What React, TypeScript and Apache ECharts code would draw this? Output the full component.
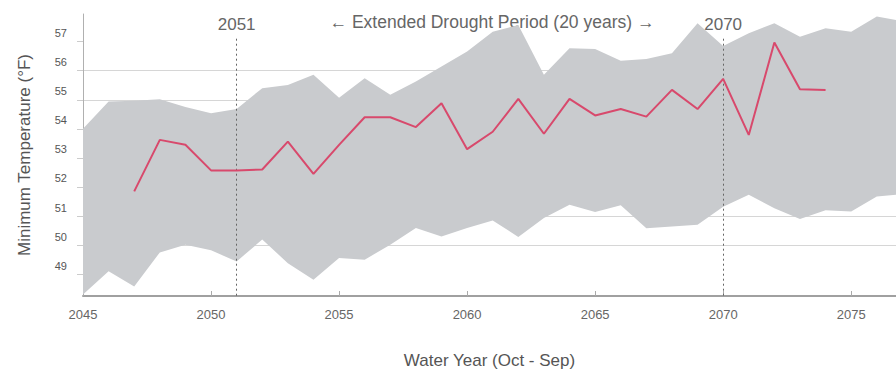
import React, { useEffect, useRef } from "react";
import * as echarts from "echarts";

const years = [
  2045, 2046, 2047, 2048, 2049, 2050, 2051, 2052, 2053, 2054, 2055, 2056, 2057,
  2058, 2059, 2060, 2061, 2062, 2063, 2064, 2065, 2066, 2067, 2068, 2069, 2070,
  2071, 2072, 2073, 2074, 2075, 2076, 2077,
];

const bandUpper = [
  54.0, 54.94, 54.97, 55.02, 54.75, 54.54, 54.68, 55.4, 55.51, 55.86, 55.07, 55.74, 55.17,
  55.63, 56.14, 56.66, 57.34, 57.57, 55.86, 56.77, 56.75, 56.34, 56.4, 56.6, 57.63, 56.85,
  57.29, 57.63, 57.17, 57.46, 57.34, 57.86, 57.7,
];

const bandLower = [
  48.3, 49.1, 48.58, 49.75, 50.01, 49.82, 49.44, 50.19, 49.38, 48.81, 49.56, 49.5, 50.01,
  50.59, 50.3, 50.59, 50.85, 50.28, 50.93, 51.39, 51.14, 51.37, 50.58, 50.64, 50.7, 51.32,
  51.73, 51.27, 50.9, 51.2, 51.16, 51.67, 51.75,
];

const medianYears = [
  2047, 2048, 2049, 2050, 2051, 2052, 2053, 2054, 2055, 2056, 2057, 2058, 2059, 2060,
  2061, 2062, 2063, 2064, 2065, 2066, 2067, 2068, 2069, 2070, 2071, 2072, 2073, 2074,
];

const medianValues = [
  51.85, 53.62, 53.45, 52.57, 52.57, 52.6, 53.56, 52.45, 53.45, 54.4, 54.4, 54.06, 54.88, 53.3,
  53.9, 55.03, 53.83, 55.03, 54.46, 54.68, 54.42, 55.34, 54.68, 55.72, 53.79, 56.97, 55.36, 55.34,
];

const yTicks = [49, 50, 51, 52, 53, 54, 55, 56, 57];

const droughtStart = 2051;
const droughtEnd = 2070;
const droughtLabel = "\u2190 Extended Drought Period (20 years) \u2192";

export default function App() {
  const ref = useRef<HTMLDivElement>(null);

  useEffect(() => {
    if (!ref.current) return;
    const chart = echarts.init(ref.current, null, { renderer: "svg" });
    const bandData = years.map((y, i) => [y, bandLower[i], bandUpper[i]]);
    const lineData = medianYears.map((y, i) => [y, medianValues[i]]);
    const font = "Arial, 'Liberation Sans', sans-serif";

    const vLine = (yr: number) => [
      {
        coord: [yr, 57.1],
        label: {
          show: true,
          position: "start",
          formatter: String(yr),
          color: "#666",
          fontSize: 17,
          fontFamily: font,
          distance: 6,
        },
      },
      { coord: [yr, 48.25] },
    ];

    chart.setOption({
      animation: false,
      backgroundColor: "#fff",
      grid: { left: 83, right: 0, top: 14, bottom: 79 },
      xAxis: {
        type: "value",
        min: 2045,
        max: 2076.75,
        interval: 5,
        name: "Water Year (Oct - Sep)",
        nameLocation: "middle",
        nameGap: 56,
        nameTextStyle: { color: "#555", fontSize: 17, fontFamily: font },
        axisLine: { show: true, lineStyle: { color: "#a0a0a0", width: 2 } },
        axisTick: { show: true, inside: true, length: 5, lineStyle: { color: "#aaa" } },
        axisLabel: {
          formatter: (v: number) => String(v),
          showMaxLabel: false,
          color: "#666",
          fontSize: 13,
          fontFamily: font,
          margin: 12,
        },
        splitLine: { show: false },
      },
      yAxis: {
        type: "value",
        min: 48.25,
        max: 57.95,
        splitNumber: 10,
        minInterval: 1,
        maxInterval: 1,
        name: "Minimum Temperature (\u00b0F)",
        nameLocation: "middle",
        nameGap: 50,
        nameTextStyle: { color: "#555", fontSize: 17, fontFamily: font },
        axisLine: { show: true, lineStyle: { color: "#b0b0b0", width: 1 } },
        axisTick: {
          show: true,
          length: 6,
          customValues: yTicks,
          lineStyle: { color: "#ccc" },
        },
        axisLabel: {
          customValues: yTicks,
          color: "#555",
          fontSize: 11,
          fontFamily: font,
          margin: 16,
          verticalAlign: "bottom",
          padding: [0, 0, 3, 0],
        },
        splitLine: {
          show: true,
          showMinLine: false,
          showMaxLine: false,
          lineStyle: { color: "#d6d6d6", width: 1 },
        },
      },
      graphic: [
        {
          type: "text",
          x: 492,
          y: 22,
          style: {
            text: droughtLabel,
            fill: "#666",
            font: `17.5px ${font}`,
            textAlign: "center",
            textVerticalAlign: "middle",
          },
        },
      ],
      series: [
        {
          type: "custom",
          data: bandData,
          encode: { x: 0, y: [1, 2] },
          silent: true,
          z: 1,
          renderItem: (params: any, api: any) => {
            if (params.dataIndex !== 0) return null;
            const pts: number[][] = [];
            for (let i = 0; i < bandData.length; i++) {
              pts.push(api.coord([bandData[i][0], bandData[i][2]]));
            }
            for (let i = bandData.length - 1; i >= 0; i--) {
              pts.push(api.coord([bandData[i][0], bandData[i][1]]));
            }
            return {
              type: "polygon",
              shape: { points: pts },
              style: { fill: "#c9cbce", stroke: "none" },
            };
          },
        },
        {
          type: "line",
          data: lineData,
          symbol: "none",
          lineStyle: { color: "#d8496c", width: 2 },
          z: 5,
          markLine: {
            silent: true,
            symbol: "none",
            lineStyle: { color: "#666", type: [2, 3], width: 1 },
            data: [vLine(droughtStart), vLine(droughtEnd)],
          },
        },
      ],
    });
    return () => chart.dispose();
  }, []);

  return (
    <div
      ref={ref}
      style={{ position: "fixed", left: 0, top: 0, width: 896, height: 375 }}
    />
  );
}
